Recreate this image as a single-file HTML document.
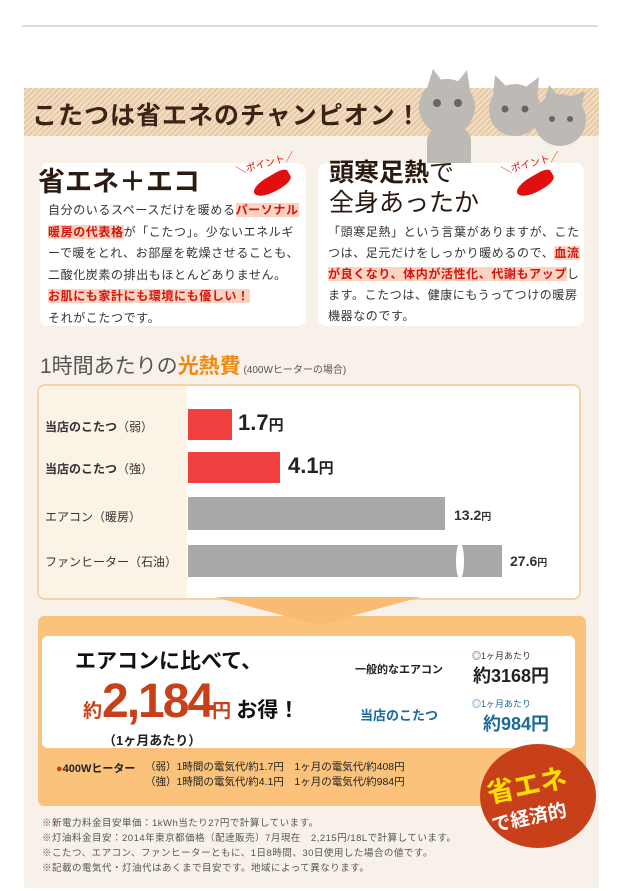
<!DOCTYPE html>
<html><head><meta charset="utf-8"><style>
*{margin:0;padding:0;box-sizing:border-box}
body{width:625px;height:891px;background:#fff;font-family:"Liberation Sans","Noto Sans CJK JP",sans-serif;position:relative;overflow:hidden;color:#333}
.a{position:absolute}
.hl{background:#fcd2c0;color:#d2150e;font-weight:bold}
</style></head><body>
<div class="a" style="left:22px;top:25px;width:576px;height:2px;background:#ddd"></div>
<div class="a" style="left:24px;top:88px;width:575px;height:800px;background:#f7f1ea"></div>
<div class="a" style="left:24px;top:88px;width:575px;height:48px;background:repeating-linear-gradient(135deg,#e7c9a3 0 2px,#f3dfc6 2px 4px)"></div>
<div class="a" style="left:32px;top:96px;font-size:25px;color:#3a2417;font-weight:bold;letter-spacing:1px">こたつは省エネのチャンピオン！</div>
<!-- cats -->
<svg class="a" style="left:405px;top:65px" width="190" height="125">
<g fill="#bdbab5"><ellipse cx="42" cy="42" rx="28" ry="28"/><polygon points="20,30 28,4 40,20"/><polygon points="50,20 62,5 66,32"/><rect x="22" y="62" width="44" height="58" rx="14"/>
<ellipse cx="110" cy="45" rx="26" ry="26"/><polygon points="88,32 90,10 104,24"/><polygon points="118,24 134,12 132,38"/>
<ellipse cx="155" cy="55" rx="26" ry="26"/><polygon points="138,40 144,20 156,34"/><polygon points="160,34 180,26 175,50"/></g>
<g fill="#666"><circle cx="32" cy="38" r="4"/><circle cx="53" cy="38" r="4"/><circle cx="100" cy="44" r="3.5"/><circle cx="120" cy="44" r="3.5"/><circle cx="147" cy="54" r="3"/><circle cx="165" cy="54" r="3"/></g></svg>
<!-- cards -->
<div class="a" style="left:40px;top:163px;width:266px;height:163px;background:#fff;border-radius:8px"></div>
<div class="a" style="left:318px;top:163px;width:266px;height:163px;background:#fff;border-radius:8px"></div>
<div class="a" style="left:38px;top:160px;font-size:27px;font-weight:bold;color:#2b1a10">省エネ＋エコ</div>
<div class="a" style="left:329px;top:158px;font-size:25px;line-height:30px;color:#2b1a10"><b>頭寒足熱</b>で<br>全身あったか</div>
<div class="a" style="left:235px;top:155px;font-size:10px;color:#d2150e;transform:rotate(-15deg)">＼ポイント／</div>
<div class="a" style="left:252px;top:176px;width:40px;height:16px;background:#e01010;border-radius:50% 30% 40% 60%;transform:rotate(-30deg)"></div>
<div class="a" style="left:500px;top:155px;font-size:10px;color:#d2150e;transform:rotate(-15deg)">＼ポイント／</div>
<div class="a" style="left:515px;top:176px;width:40px;height:16px;background:#e01010;border-radius:50% 30% 40% 60%;transform:rotate(-30deg)"></div>
<div class="a" style="left:48px;top:200px;width:252px;font-size:12px;letter-spacing:0.6px;line-height:21.5px;color:#333">自分のいるスペースだけを暖める<span class="hl">パーソナル暖房の代表格</span>が「こたつ」。少ないエネルギーで暖をとれ、お部屋を乾燥させることも、二酸化炭素の排出もほとんどありません。<br><span class="hl">お肌にも家計にも環境にも優しい！</span><br>それがこたつです。</div>
<div class="a" style="left:328px;top:222px;width:252px;font-size:12px;letter-spacing:0.6px;line-height:21px;color:#333">「頭寒足熱」という言葉がありますが、こたつは、足元だけをしっかり暖めるので、<span class="hl">血流が良くなり、体内が活性化、代謝もアップ</span>します。こたつは、健康にもうってつけの暖房機器なのです。</div>
<!-- chart -->
<div class="a" style="left:40px;top:350px;font-size:21px;color:#555">1時間あたりの<b style="color:#f08a10">光熱費</b><span style="font-size:10px"> (400Wヒーターの場合)</span></div>
<div class="a" style="left:37px;top:384px;width:544px;height:216px;background:#fff;border:2px solid #f5d3a6;border-radius:8px"></div>
<div class="a" style="left:39px;top:386px;width:148px;height:212px;background:#fbf3e6;border-radius:6px 0 0 6px"></div>
<div class="a" style="left:45px;top:418px;font-size:12px;font-weight:bold;color:#333">当店のこたつ<span style="font-weight:normal">（弱）</span></div>
<div class="a" style="left:45px;top:460px;font-size:12px;font-weight:bold;color:#333">当店のこたつ<span style="font-weight:normal">（強）</span></div>
<div class="a" style="left:45px;top:508px;font-size:12px;color:#333">エアコン（暖房）</div>
<div class="a" style="left:45px;top:553px;font-size:12px;color:#333">ファンヒーター（石油）</div>
<div class="a" style="left:188px;top:409px;width:44px;height:31px;background:#f04040"></div>
<div class="a" style="left:238px;top:410px;font-size:22px;font-weight:bold;color:#222">1.7<span style="font-size:15px">円</span></div>
<div class="a" style="left:188px;top:452px;width:92px;height:31px;background:#f04040"></div>
<div class="a" style="left:288px;top:453px;font-size:22px;font-weight:bold;color:#222">4.1<span style="font-size:15px">円</span></div>
<div class="a" style="left:188px;top:497px;width:257px;height:33px;background:#a9a9a9"></div>
<div class="a" style="left:454px;top:507px;font-size:14px;font-weight:bold;color:#333">13.2<span style="font-size:10px">円</span></div>
<div class="a" style="left:188px;top:545px;width:314px;height:32px;background:#a9a9a9"></div>
<div class="a" style="left:456px;top:543px;width:8px;height:36px;background:#fff;border-radius:50%"></div>
<div class="a" style="left:510px;top:553px;font-size:14px;font-weight:bold;color:#333">27.6<span style="font-size:10px">円</span></div>
<!-- orange box -->
<div class="a" style="left:38px;top:616px;width:548px;height:190px;background:#fbc27c;border-radius:6px"></div>
<div class="a" style="left:215px;top:597px;width:0;height:0;border-left:103px solid transparent;border-right:103px solid transparent;border-top:28px solid #f9bb70"></div>
<div class="a" style="left:42px;top:636px;width:533px;height:112px;background:#fff;border-radius:6px"></div>
<div class="a" style="left:75px;top:645px;font-size:21px;font-weight:bold;color:#111">エアコンに比べて、</div>
<div class="a" style="left:83px;top:674px;font-size:19px;font-weight:bold;color:#c8401a;white-space:nowrap">約<span style="font-size:48px;letter-spacing:-2px">2,184</span>円 <span style="color:#111;font-size:21px">お得！</span></div>
<div class="a" style="left:103px;top:730px;font-size:13px;font-weight:bold;color:#222">（1ヶ月あたり）</div>
<div class="a" style="left:355px;top:661px;font-size:11px;font-weight:bold;color:#222">一般的なエアコン</div>
<div class="a" style="left:360px;top:705px;font-size:13px;font-weight:bold;color:#1a6a9a">当店のこたつ</div>
<div class="a" style="left:472px;top:649px;font-size:9px;color:#333">◎1ヶ月あたり</div>
<div class="a" style="left:473px;top:662px;font-size:18px;font-weight:bold;color:#222">約3168円</div>
<div class="a" style="left:472px;top:697px;font-size:9px;color:#1a6a9a">◎1ヶ月あたり</div>
<div class="a" style="left:483px;top:710px;font-size:18px;font-weight:bold;color:#1a6a9a">約984円</div>
<div class="a" style="left:56px;top:760px;font-size:11px;font-weight:bold;color:#222"><span style="color:#c8401a">●</span>400Wヒーター</div>
<div class="a" style="left:145px;top:760px;font-size:10.5px;line-height:15px;color:#222">（弱）1時間の電気代/約1.7円　1ヶ月の電気代/約408円<br>（強）1時間の電気代/約4.1円　1ヶ月の電気代/約984円</div>
<div class="a" style="left:480px;top:744px;width:116px;height:104px;border-radius:50%;background:#c8401a"></div>
<div class="a" style="left:486px;top:764px;font-size:27px;font-weight:bold;color:#ffe000;transform:rotate(-12deg)">省エネ</div>
<div class="a" style="left:491px;top:803px;font-size:19px;font-weight:bold;color:#fff;transform:rotate(-12deg)">で経済的</div>
<div class="a" style="left:42px;top:816px;font-size:9.5px;letter-spacing:0.5px;line-height:15px;color:#555">※新電力料金目安単価：1kWh当たり27円で計算しています。<br>※灯油料金目安：2014年東京都価格（配達販売）7月現在　2,215円/18Lで計算しています。<br>※こたつ、エアコン、ファンヒーターともに、1日8時間、30日使用した場合の値です。<br>※記載の電気代・灯油代はあくまで目安です。地域によって異なります。</div>
</body></html>
